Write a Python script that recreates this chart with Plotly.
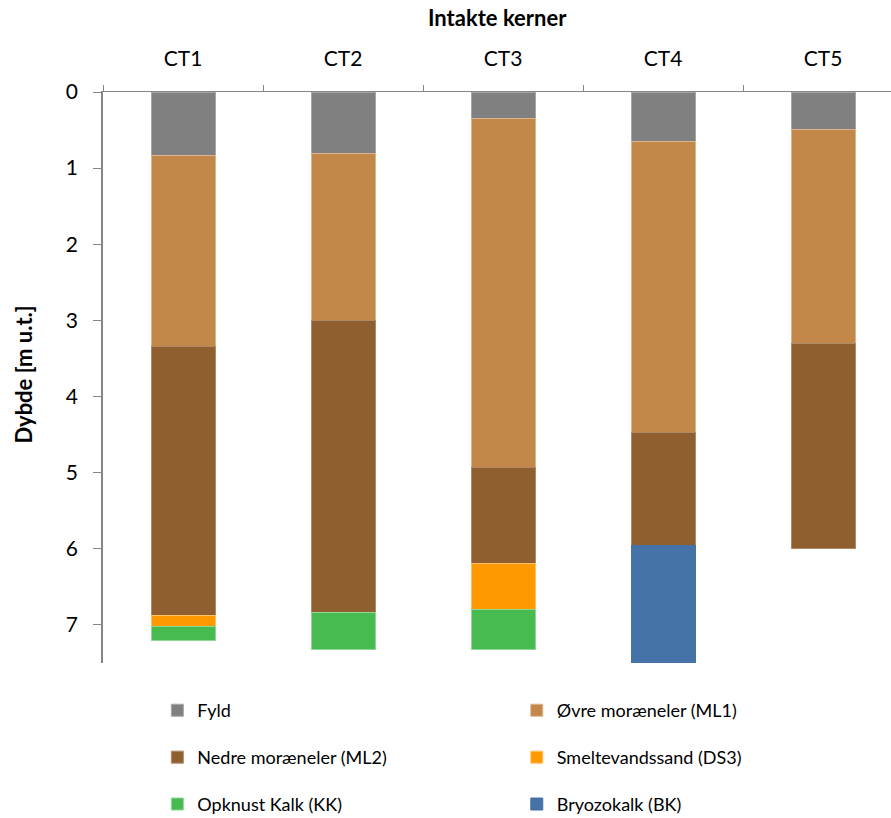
import plotly.graph_objects as go

cores = ["CT1", "CT2", "CT3", "CT4", "CT5"]
fyld = [0.84, 0.81, 0.35, 0.65, 0.49]
ml1 = [2.50, 2.19, 4.58, 3.82, 2.81]
ml2 = [3.54, 3.84, 1.26, 1.49, 2.70]
ds3 = [0.14, None, 0.61, None, None]
kk = [0.18, 0.48, 0.52, None, None]
bk = [None, None, None, 1.58, None]

series = [
    ("Fyld", fyld, "#808080", "#a6a6a6", "legend"),
    ("Øvre moræneler (ML1)", ml1, "#C4874A", "#dcb48c", "legend2"),
    ("Nedre moræneler (ML2)", ml2, "#8F5F2F", "#b08a66", "legend"),
    ("Smeltevandssand (DS3)", ds3, "#FF9900", "#ffc266", "legend2"),
    ("Opknust Kalk (KK)", kk, "#48BB50", "#8fd894", "legend"),
    ("Bryozokalk (BK)", bk, "#4573A7", "#4573A7", "legend2"),
]

FONT = "Lato, 'Open Sans', sans-serif"

fig = go.Figure()
for i, (name, vals, col, lcol, lg) in enumerate(series):
    fig.add_trace(go.Bar(
        x=cores, y=vals, name=name, marker=dict(color=col, line=dict(color=lcol, width=1)),
        legend=lg, legendgroup=name,
    ))

fig.update_layout(
    width=891, height=818,
    margin=dict(l=103, r=0, t=92, b=155, autoexpand=False),
    barmode="stack", bargap=0.6,
    plot_bgcolor="white", paper_bgcolor="white",
    font=dict(family=FONT, size=21, color="black"),
    legend=dict(xref="container", yref="container", x=0.1766, y=0.154, xanchor="left", yanchor="top",
                tracegroupgap=20.5, font=dict(size=18), bgcolor="rgba(0,0,0,0)"),
    legend2=dict(xref="container", yref="container", x=0.58, y=0.154, xanchor="left", yanchor="top",
                 tracegroupgap=20.5, font=dict(size=18), bgcolor="rgba(0,0,0,0)"),
    annotations=[
        dict(text="<b>Intakte kerner</b>", xref="paper", yref="paper", x=0.5, y=1.1296,
             xanchor="center", yanchor="middle", showarrow=False, font=dict(size=22)),
        dict(text="<b>Dybde [m u.t.]</b>", xref="paper", yref="paper", x=-0.1003, y=0.505,
             xanchor="center", yanchor="middle", textangle=-90, showarrow=False, font=dict(size=22)),
    ],
)
fig.update_xaxes(
    side="top", range=[-0.5, 4.425], showline=True, linecolor="#868686", linewidth=1,
    ticks="outside", tickson="boundaries", ticklen=6, tickcolor="#868686",
    tickfont=dict(size=21), showgrid=False, tickangle=0, ticklabelstandoff=17,
)
fig.update_yaxes(
    range=[7.5, 0], showline=True, linecolor="#868686", linewidth=1.5,
    ticks="outside", ticklen=8, tickcolor="#868686", dtick=1, tick0=0,
    tickfont=dict(size=21), showgrid=False, zeroline=False, ticklabelstandoff=11,
)
fig.write_html("out.html", config={"displayModeBar": False},
               post_script="document.body.style.margin='0';")
